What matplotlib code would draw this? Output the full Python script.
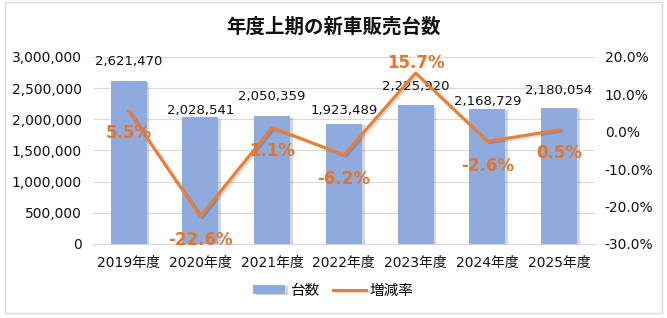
import matplotlib.pyplot as plt
import matplotlib.patheffects as pe
from matplotlib.patches import Rectangle

plt.rcParams['font.family'] = ['DejaVu Sans', 'Noto Sans CJK JP']

years = ['2019年度', '2020年度', '2021年度', '2022年度', '2023年度', '2024年度', '2025年度']
units = [2621470, 2028541, 2050359, 1923489, 2225920, 2168729, 2180054]
rate = [5.5, -22.6, 1.1, -6.2, 15.7, -2.6, 0.5]

# ラベル位置 (points)
unit_label_off = [9, 0, 9.4, 5, 8.6, 0.7, 8]
rate_label_off = [-16, -17, -17, -17, 7, -18, -17]

bar_color = '#8FAADC'
line_color = '#ED7D31'

fig = plt.figure(figsize=(6.67, 3.18), dpi=100)
ax = fig.add_axes([0.139, 0.233, 0.753, 0.588])
ax2 = ax.twinx()

x = list(range(len(years)))
shadow = [pe.SimplePatchShadow(offset=(2, -1), shadow_rgbFace='#777777', alpha=0.3), pe.Normal()]
bars = ax.bar(x, units, width=0.5, color=bar_color, label='台数', zorder=2)
for b in bars:
    b.set_path_effects(shadow)

for xi, v, off in zip(x, units, unit_label_off):
    ax.annotate(f'{v:,}', (xi, v), xytext=(0, off), textcoords='offset points',
                ha='center', va='bottom', fontsize=9.5, color='#111111')

ax.set_ylim(0, 3000000)
ax.set_yticks(range(0, 3000001, 500000))
ax.set_yticklabels([f'{v:,}' for v in range(0, 3000001, 500000)])
ax.set_xlim(-0.5, len(years) - 0.5)
ax.set_xticks(x)
ax.set_xticklabels(years)
ax.grid(axis='y', color='#D9D9D9', linewidth=0.8, zorder=0)
ax.set_axisbelow(True)
for s in ['top', 'right', 'left']:
    ax.spines[s].set_visible(False)
ax.spines['bottom'].set_color('#D9D9D9')
ax.tick_params(axis='both', length=0, labelsize=10, colors='#111111')
ax.tick_params(axis='x', pad=9)
ax.tick_params(axis='y', pad=8)

ax2.plot(x, rate, color=line_color, linewidth=2.2, label='増減率', zorder=3,
         path_effects=[pe.SimpleLineShadow(offset=(1.5, -1), alpha=0.15), pe.Normal()])
ax2.set_ylim(-30, 20)
ax2.set_yticks(range(-30, 21, 10))
ax2.set_yticklabels([f'{v:.1f}%' for v in range(-30, 21, 10)])
ax2.tick_params(axis='y', length=0, labelsize=10, colors='#111111', pad=7)
for s in ax2.spines.values():
    s.set_visible(False)

for xi, r, off in zip(x, rate, rate_label_off):
    ax2.annotate(f'{r:.1f}%', (xi, r), xytext=(0, off), textcoords='offset points',
                 ha='center', va='center', fontsize=12,
                 fontweight='bold', color='#E2742C')

fig.text(0.5, 0.915, '年度上期の新車販売台数', ha='center', va='center',
         fontsize=14, fontweight='bold', color='#111111')

h1, l1 = ax.get_legend_handles_labels()
h2, l2 = ax2.get_legend_handles_labels()
fig.legend(h1 + h2, l1 + l2, loc='center', bbox_to_anchor=(0.5, 0.088), ncol=2,
           frameon=False, fontsize=10.5, handlelength=2.2, handleheight=0.6,
           columnspacing=1.0, handletextpad=0.3)

fig.patches.append(Rectangle((0.008, 0.017), 0.984, 0.977, transform=fig.transFigure,
                             fill=False, edgecolor='#D9D9D9', linewidth=1))

fig.savefig('out.png', dpi=100)
